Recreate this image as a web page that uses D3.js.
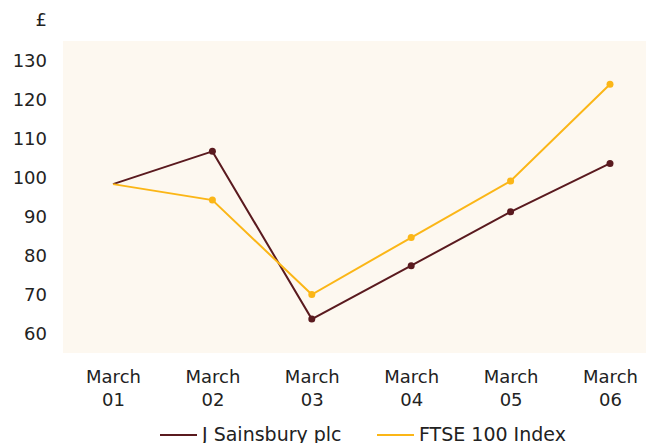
<!DOCTYPE html>
<html><head><meta charset="utf-8">
<script src="https://cdn.jsdelivr.net/npm/d3@7"></script>
<style>html,body{margin:0;padding:0;background:#fff;overflow:hidden}</style>
</head><body>
<svg id="c" width="646" height="443"></svg>
<script>
const categories = ["March 01","March 02","March 03","March 04","March 05","March 06"];
const sainsbury = [98.3, 106.7, 63.7, 77.4, 91.2, 103.6];
const ftse = [98.3, 94.2, 70.0, 84.6, 99.1, 123.9];
const yTicks = [60,70,80,90,100,110,120,130];
const seriesNames = ["J Sainsbury plc","FTSE 100 Index"];
const colors = ["#5a1a1f","#fbb617"];

const svg = d3.select("#c");
const font = "DejaVu Sans";
const plot = {left:63, right:646, top:41, bottom:353};

svg.append("rect").attr("x",plot.left).attr("y",plot.top)
  .attr("width",plot.right-plot.left).attr("height",plot.bottom-plot.top)
  .attr("fill","#fdf8f0");

const x = d3.scalePoint().domain(categories).range([113,610]);
const y = d3.scaleLinear().domain([55,135]).range([plot.bottom,plot.top]);

// y axis labels
const ya = svg.append("g").attr("transform",`translate(47,0)`)
  .call(d3.axisLeft(y).tickValues(yTicks).tickSize(0).tickPadding(0));
ya.select(".domain").remove();
ya.selectAll("text").attr("font-family",font).attr("font-size",18).attr("fill","#222");

svg.append("text").attr("x",47).attr("y",20).attr("dy","0.35em")
  .attr("text-anchor","end").attr("font-family",font).attr("font-size",18).attr("fill","#222").text("£");

// x axis labels
const xa = svg.append("g").attr("transform",`translate(0,366)`)
  .call(d3.axisBottom(x).tickSize(0).tickPadding(0));
xa.select(".domain").remove();
xa.selectAll("text").attr("font-family",font).attr("font-size",18).attr("fill","#222")
  .each(function(d){
    const parts = d.split(" ");
    const t = d3.select(this).text(null).attr("dy",null).attr("y",0);
    t.append("tspan").attr("x",0).attr("y",17).text(parts[0]);
    t.append("tspan").attr("x",0).attr("y",40).text(parts[1]);
  });

const line = d3.line().x((d,i)=>x(categories[i])).y(d=>y(d));
[sainsbury, ftse].forEach((s,k)=>{
  svg.append("path").datum(s).attr("d",line).attr("fill","none")
    .attr("stroke",colors[k]).attr("stroke-width",2);
  svg.selectAll(null).data(s.slice(1)).enter().append("circle")
    .attr("cx",(d,i)=>x(categories[i+1])).attr("cy",d=>y(d)).attr("r",3.5)
    .attr("fill",colors[k]);
});

// legend
const legX = [160, 377];
seriesNames.forEach((n,k)=>{
  svg.append("line").attr("x1",legX[k]).attr("x2",legX[k]+37).attr("y1",435).attr("y2",435)
    .attr("stroke",colors[k]).attr("stroke-width",2);
  svg.append("text").attr("x",legX[k]+42).attr("y",441).attr("font-family",font)
    .attr("font-size",19).attr("fill","#222").text(n);
});
</script>
</body></html>
